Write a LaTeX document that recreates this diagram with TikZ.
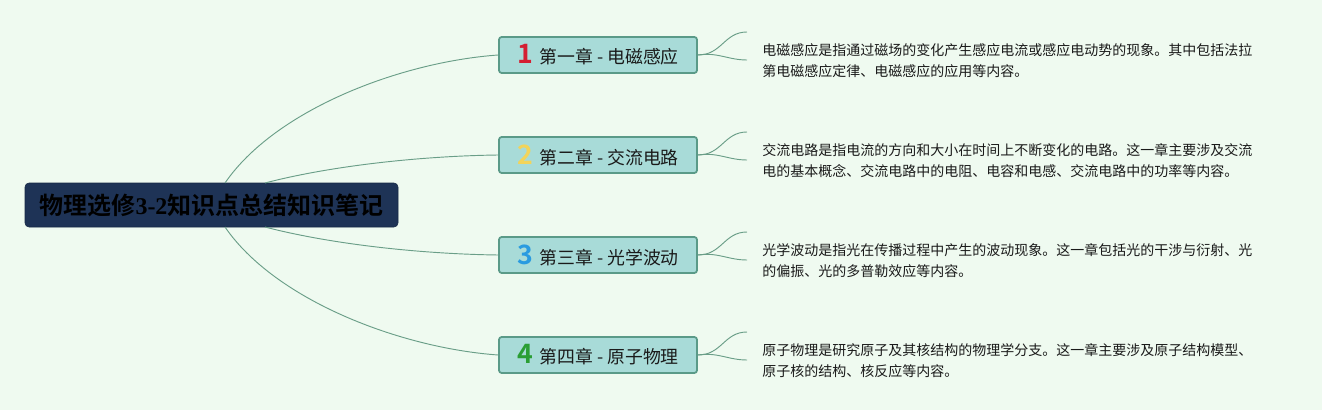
\documentclass[tikz,border=0pt]{standalone}
\usepackage{fontspec}
\setmainfont{Noto Sans CJK SC}
\newfontfamily\cjkbold{Noto Sans CJK SC Bold}
\newfontfamily\rootlatin{Liberation Serif}
\newcommand\chnumfont{\cjkbold\fontsize{20pt}{20pt}\selectfont}
\definecolor{bgc}{HTML}{EFFAF0}
\definecolor{rootfill}{HTML}{1E3356}
\definecolor{boxfill}{HTML}{A8DBD8}
\definecolor{boxline}{HTML}{5A9A88}
\definecolor{linkc}{HTML}{6A9E88}
\definecolor{nred}{HTML}{D41F32}
\definecolor{nyellow}{HTML}{F2D45A}
\definecolor{nblue}{HTML}{2A9BE0}
\definecolor{ngreen}{HTML}{2A9E34}
\definecolor{txt}{HTML}{1A1A1A}
\begin{document}
\begin{tikzpicture}[x=0.75pt,y=-0.75pt,
  rootbox/.style={draw=rootfill!80!black,fill=rootfill,rounded corners=3pt,minimum width=279.75pt,minimum height=33pt,inner sep=0pt,font=\cjkbold\fontsize{18pt}{20pt}\selectfont,text=black},
  chbox/.style={draw=boxline,line width=1.3pt,fill=boxfill,rounded corners=2pt,minimum width=148.5pt,minimum height=27pt,inner sep=0pt,font=\fontsize{13.4pt}{14pt}\selectfont,text=txt},
  desc/.style={anchor=north west,align=left,inner sep=0pt,font=\fontsize{10.5pt}{15.75pt}\selectfont,text=txt},
  link/.style={draw=linkc,line width=0.7pt}]
\fill[bgc] (0,0) rectangle (1322,410);
\useasboundingbox (0,0) rectangle (1322,410);

\node[rootbox] (root) at (211.5,205) {物理选修{\rootlatin\bfseries 3-2}知识点总结知识笔记};

\node[chbox] (c1) at (598,55) {\textcolor{nred}{\chnumfont 1}\hspace{5pt}第一章 - 电磁感应\hspace{1pt}};
\node[chbox] (c2) at (598,155) {\textcolor{nyellow}{\chnumfont 2}\hspace{5pt}第二章 - 交流电路\hspace{1pt}};
\node[chbox] (c3) at (598,255) {\textcolor{nblue}{\chnumfont 3}\hspace{5pt}第三章 - 光学波动\hspace{1pt}};
\node[chbox] (c4) at (598,355) {\textcolor{ngreen}{\chnumfont 4}\hspace{5pt}第四章 - 原子物理\hspace{1pt}};

\coordinate (r1) at (225,183);
\coordinate (r2) at (265,183);
\coordinate (r3) at (265,227);
\coordinate (r4) at (225,227);

\draw[link] (r1) .. controls (275,110) and (400,62) .. (c1.west);
\draw[link] (r2) .. controls (330,166) and (420,156) .. (c2.west);
\draw[link] (r3) .. controls (330,244) and (420,254) .. (c3.west);
\draw[link] (r4) .. controls (275,300) and (400,348) .. (c4.west);

\foreach \i/\y in {1/55,2/155,3/255,4/355}{
  \coordinate (t\i) at (747,\y-23);
  \coordinate (b\i) at (747,\y+5);
  \draw[link] (c\i.east) .. controls (722,\y) and (724,\y-23) .. (t\i);
  \draw[link] (c\i.east) .. controls (718,\y-3) and (728,\y+5) .. (b\i);
}

\node[desc] (d1) at (762,43.5) {电磁感应是指通过磁场的变化产生感应电流或感应电动势的现象。其中包括法拉\\第电磁感应定律、电磁感应的应用等内容。};
\node[desc] (d2) at (762,143.5) {交流电路是指电流的方向和大小在时间上不断变化的电路。这一章主要涉及交流\\电的基本概念、交流电路中的电阻、电容和电感、交流电路中的功率等内容。};
\node[desc] (d3) at (762,243.5) {光学波动是指光在传播过程中产生的波动现象。这一章包括光的干涉与衍射、光\\的偏振、光的多普勒效应等内容。};
\node[desc] (d4) at (762,343.5) {原子物理是研究原子及其核结构的物理学分支。这一章主要涉及原子结构模型、\\原子核的结构、核反应等内容。};
\end{tikzpicture}
\end{document}
